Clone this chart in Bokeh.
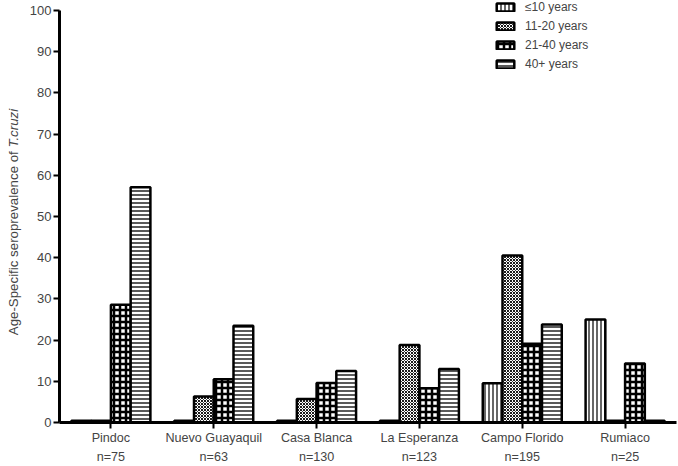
import math
import numpy as np
from bokeh.plotting import figure
from bokeh.layouts import row
from bokeh.models import (ColumnDataSource, Range1d, Legend, LegendItem, Label,
                          FixedTicker, LinearAxis)
from bokeh.embed import file_html
from bokeh.resources import INLINE

sites = ["Pindoc", "Nuevo Guayaquil", "Casa Blanca", "La Esperanza", "Campo Florido", "Rumiaco"]
n_sizes = [75, 63, 130, 123, 195, 25]
age_le10 = [0.4, 0.4, 0.4, 0.4, 9.5, 25.0]
age_11_20 = [0.4, 6.3, 5.7, 18.8, 40.5, 0.4]
age_21_40 = [28.6, 10.5, 9.6, 8.3, 19.1, 14.3]
age_40p = [57.1, 23.5, 12.5, 13.0, 23.8, 0.4]
series_names = ["\u226410 years", "11-20 years", "21-40 years", "40+ years"]
y_ticks = list(range(0, 101, 10))
y_axis_max = 100
y_view_max = 102.4   # a little head-room above the axis end for the legend
y_label_main = "Age-Specific seroprevalence of "
y_label_italic = "T.cruzi"

FONT = "Liberation Sans"
idx = np.arange(len(sites))
w = 0.192

# narrow panel that carries the y-axis title (mixed upright / italic)
lab_fig = figure(width=26, height=466, x_range=Range1d(0, 1), y_range=Range1d(0, 1),
                 x_axis_type=None, y_axis_type=None, output_backend="svg", toolbar_location=None,
                 min_border_left=0, min_border_right=0, min_border_top=0, min_border_bottom=0)
lab_fig.outline_line_color = None
lab_fig.grid.visible = False
lab_fig.add_layout(Label(x=13, y=275, x_units="screen", y_units="screen", text=y_label_main,
                         angle=math.pi / 2, text_align="right", text_baseline="middle",
                         text_font=FONT, text_font_size="13.3px"))
lab_fig.add_layout(Label(x=13, y=275, x_units="screen", y_units="screen", text=y_label_italic,
                         angle=math.pi / 2, text_align="left", text_baseline="middle",
                         text_font=FONT, text_font_size="13.3px", text_font_style="italic"))

p = figure(width=652, height=466, x_range=Range1d(-0.5, len(sites) - 0.5),
           y_range=Range1d(0, y_view_max),
           output_backend="svg", toolbar_location=None,
           min_border_left=26, min_border_right=2, min_border_top=0, min_border_bottom=40)
p.outline_line_color = None
p.grid.visible = False

series = [age_le10, age_11_20, age_21_40, age_40p]
styles = [
    (-1.5, "|", 4, 1.2),
    (-0.5, "x", 3, 0.9),
    (0.5, "+", 6, 2.5),
    (1.5, "-", 4, 1.3),
]
renderers = []
for vals, (off, hatch, scale, weight) in zip(series, styles):
    src = ColumnDataSource(dict(x=idx + off * w, top=vals))
    r = p.vbar(x="x", top="top", width=w, bottom=0, source=src,
               fill_color="white", line_color="black", line_width=2.5,
               hatch_pattern=hatch, hatch_color="black", hatch_scale=scale, hatch_weight=weight)
    renderers.append(r)

legend = Legend(items=[LegendItem(label=nm, renderers=[r]) for nm, r in zip(series_names, renderers)],
                location=(435, 351), orientation="vertical")
legend.glyph_width = 22
legend.glyph_height = 10
legend.label_height = 14
legend.label_standoff = 9
legend.spacing = 5
legend.padding = 0
legend.margin = 0
legend.border_line_color = None
legend.background_fill_alpha = 0
legend.label_text_font = FONT
legend.label_text_font_size = "12px"
p.add_layout(legend)

p.yaxis.ticker = FixedTicker(ticks=y_ticks)
p.yaxis.bounds = (0, y_axis_max)
p.yaxis.axis_line_width = 3
p.yaxis.major_tick_line_width = 2
p.yaxis.major_tick_out = 6
p.yaxis.major_tick_in = 0
p.yaxis.minor_tick_line_color = None
p.yaxis.major_label_text_font = FONT
p.yaxis.major_label_text_font_size = "13px"
p.yaxis.major_label_standoff = 2

p.xaxis.ticker = FixedTicker(ticks=list(idx))
p.xaxis.axis_line_width = 3
p.xaxis.major_tick_line_width = 2
p.xaxis.major_tick_out = 6
p.xaxis.major_tick_in = 0
p.xaxis.minor_tick_line_color = None
p.xaxis.major_label_text_font = FONT
p.xaxis.major_label_text_font_size = "12.6px"
p.xaxis.major_label_standoff = 2
p.xaxis.major_label_overrides = {int(i): s for i, s in zip(idx, sites)}

n_axis = LinearAxis(ticker=FixedTicker(ticks=list(idx)), axis_line_color=None,
                    major_tick_line_color=None, minor_tick_line_color=None,
                    major_tick_out=0, major_tick_in=0, major_label_standoff=2,
                    major_label_text_font=FONT, major_label_text_font_size="12.6px",
                    major_label_overrides={int(i): f"n={n}" for i, n in zip(idx, n_sizes)})
p.add_layout(n_axis, "below")

layout = row(lab_fig, p, spacing=0)
open("out.html", "w").write(file_html(layout, INLINE))
